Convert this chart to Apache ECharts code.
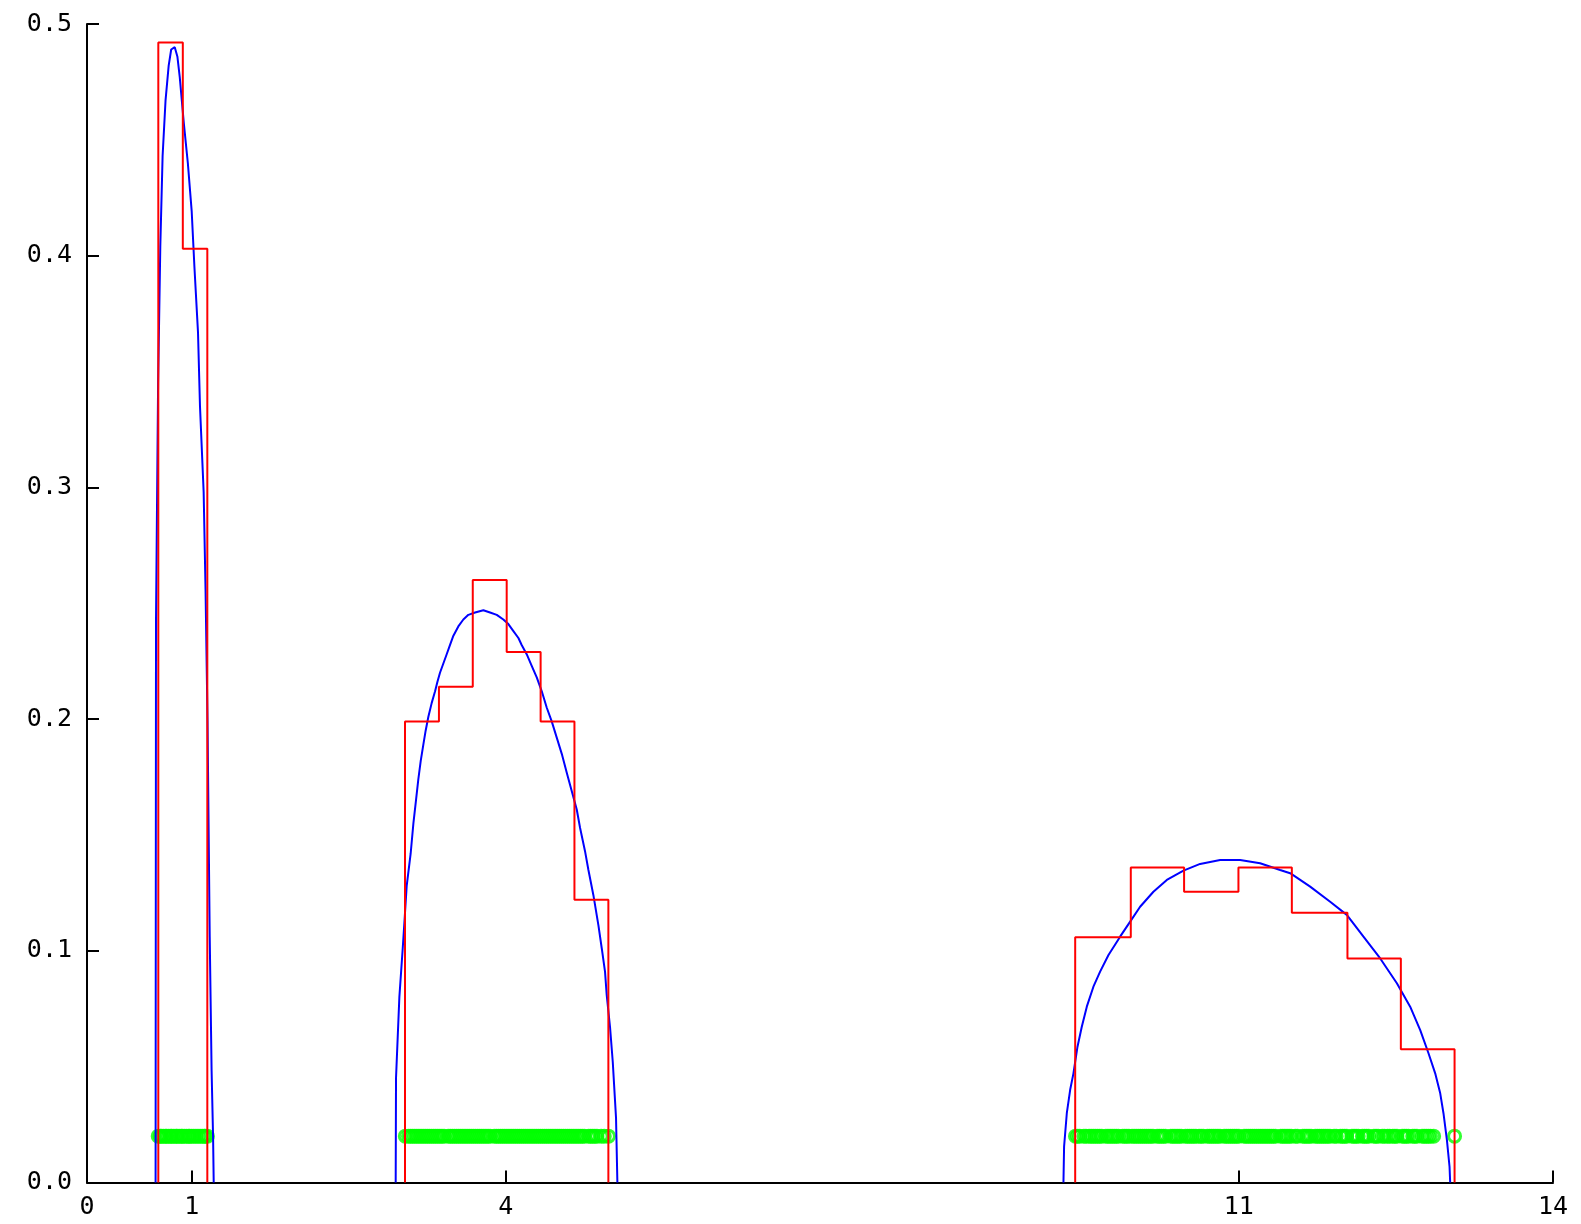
<!DOCTYPE html>
<html>
<head>
<meta charset="utf-8">
<script src="https://cdn.jsdelivr.net/npm/echarts@6/dist/echarts.min.js"></script>
<style>
html,body{margin:0;padding:0;background:#fff;}
#chart{width:1581px;height:1224px;}
</style>
</head>
<body>
<div id="chart"></div>
<script>
// ---- Axis ticks ----
const xTickValues = [0, 1, 4, 11, 14];
const yTickValues = [0, 0.1, 0.2, 0.3, 0.4, 0.5];

// ---- Histogram (red), bin edges and heights for each cluster ----
const binEdges1 = [0.681, 0.915, 1.149];
const binHeights1 = [0.492, 0.403];
const binEdges2 = [3.037, 3.361, 3.684, 4.008, 4.332, 4.655, 4.979];
const binHeights2 = [0.199, 0.214, 0.260, 0.229, 0.199, 0.122];
const binEdges3 = [9.437, 9.968, 10.477, 10.996, 11.506, 12.037, 12.547, 13.06];
const binHeights3 = [0.1058, 0.1359, 0.1255, 0.1359, 0.1164, 0.0967, 0.0575];

// ---- Density curves (blue) ----
const densX1 = [0.655, 0.659, 0.679, 0.700, 0.722, 0.750, 0.780, 0.804, 0.838, 0.863, 0.886, 0.925, 0.963, 1.000, 1.026, 1.060, 1.079, 1.114, 1.132, 1.151, 1.172, 1.190, 1.204, 1.210];
const densY1 = [0, 0.243, 0.345, 0.404, 0.443, 0.467, 0.482, 0.489, 0.490, 0.486, 0.477, 0.457, 0.440, 0.419, 0.395, 0.367, 0.335, 0.298, 0.256, 0.199, 0.106, 0.048, 0.020, 0];

const densX2 = [2.948, 2.951, 2.983, 3.015, 3.035, 3.053, 3.091, 3.117, 3.142, 3.164, 3.187, 3.212, 3.234, 3.260, 3.292, 3.324, 3.346, 3.371, 3.403, 3.435, 3.467, 3.499, 3.546, 3.594, 3.642, 3.706, 3.785, 3.849, 3.913, 3.976, 4.024, 4.072, 4.120, 4.151, 4.199, 4.247, 4.295, 4.343, 4.390, 4.438, 4.486, 4.534, 4.581, 4.629, 4.677, 4.709, 4.756, 4.788, 4.836, 4.884, 4.916, 4.947, 4.963, 4.995, 5.021, 5.052, 5.065];
const densY2 = [0, 0.045, 0.080, 0.101, 0.115, 0.128, 0.142, 0.155, 0.165, 0.174, 0.182, 0.189, 0.195, 0.201, 0.207, 0.212, 0.216, 0.220, 0.224, 0.228, 0.232, 0.236, 0.240, 0.243, 0.245, 0.246, 0.247, 0.246, 0.245, 0.243, 0.241, 0.238, 0.235, 0.232, 0.228, 0.223, 0.218, 0.212, 0.205, 0.199, 0.192, 0.185, 0.177, 0.169, 0.161, 0.153, 0.143, 0.135, 0.124, 0.111, 0.101, 0.091, 0.081, 0.067, 0.052, 0.028, 0];

const densX3 = [9.325, 9.331, 9.357, 9.389, 9.420, 9.459, 9.500, 9.548, 9.611, 9.675, 9.755, 9.866, 9.962, 10.057, 10.184, 10.312, 10.471, 10.630, 10.821, 11.012, 11.203, 11.394, 11.490, 11.681, 11.872, 12.031, 12.190, 12.350, 12.509, 12.636, 12.732, 12.811, 12.875, 12.923, 12.954, 12.987, 13.012, 13.018];
const densY3 = [0, 0.0155, 0.0299, 0.0400, 0.0470, 0.0586, 0.0672, 0.0759, 0.0845, 0.0910, 0.0982, 0.1061, 0.1126, 0.1190, 0.1255, 0.1306, 0.1346, 0.1375, 0.1392, 0.1392, 0.1378, 0.1349, 0.1335, 0.1277, 0.1212, 0.1155, 0.1061, 0.0967, 0.0860, 0.0759, 0.0658, 0.0558, 0.0471, 0.0385, 0.0299, 0.0183, 0.0068, 0];

// ---- Rug of observations (green), all drawn at this height ----
const rugLevel = 0.02;
const rug1 = [0.68, 0.70, 0.71, 0.73, 0.75, 0.76, 0.78, 0.80, 0.81, 0.83, 0.85, 0.86, 0.88, 0.90, 0.91, 0.93, 0.95, 0.97, 0.98, 1.00, 1.02, 1.04, 1.06, 1.08, 1.10, 1.12, 1.13, 1.15];
const rug2 = [3.04, 3.07, 3.09, 3.11, 3.13, 3.15, 3.17, 3.19, 3.21, 3.23, 3.25, 3.27, 3.29, 3.31, 3.33, 3.35, 3.37, 3.39, 3.41, 3.45, 3.47, 3.49, 3.51, 3.53, 3.55, 3.57, 3.59, 3.61, 3.63, 3.65, 3.67, 3.69, 3.71, 3.73, 3.75, 3.77, 3.79, 3.81, 3.83, 3.85, 3.89, 3.91, 3.93, 3.95, 3.97, 3.99, 4.01, 4.03, 4.05, 4.07, 4.09, 4.11, 4.13, 4.15, 4.17, 4.19, 4.21, 4.23, 4.25, 4.27, 4.29, 4.31, 4.33, 4.35, 4.37, 4.39, 4.41, 4.43, 4.45, 4.47, 4.49, 4.51, 4.53, 4.55, 4.57, 4.59, 4.61, 4.63, 4.65, 4.67, 4.69, 4.71, 4.73, 4.75, 4.79, 4.81, 4.83, 4.85, 4.87, 4.91, 4.94, 4.98];
const rug3 = [9.44, 9.46, 9.48, 9.52, 9.54, 9.57, 9.59, 9.61, 9.63, 9.65, 9.67, 9.69, 9.73, 9.75, 9.77, 9.79, 9.81, 9.83, 9.85, 9.89, 9.91, 9.93, 9.95, 9.98, 10.00, 10.02, 10.04, 10.06, 10.08, 10.10, 10.12, 10.14, 10.16, 10.18, 10.22, 10.24, 10.26, 10.28, 10.30, 10.35, 10.37, 10.39, 10.41, 10.43, 10.45, 10.49, 10.51, 10.53, 10.55, 10.57, 10.59, 10.62, 10.64, 10.66, 10.70, 10.72, 10.74, 10.76, 10.78, 10.80, 10.82, 10.86, 10.88, 10.90, 10.92, 10.94, 10.96, 10.98, 11.00, 11.05, 11.07, 11.09, 11.11, 11.13, 11.15, 11.17, 11.19, 11.21, 11.23, 11.25, 11.27, 11.29, 11.31, 11.33, 11.35, 11.40, 11.42, 11.44, 11.46, 11.48, 11.50, 11.54, 11.56, 11.61, 11.63, 11.65, 11.67, 11.69, 11.73, 11.75, 11.77, 11.79, 11.81, 11.83, 11.85, 11.87, 11.91, 11.93, 11.97, 11.99, 12.01, 12.03, 12.08, 12.10, 12.12, 12.14, 12.18, 12.20, 12.22, 12.24, 12.29, 12.31, 12.33, 12.37, 12.39, 12.42, 12.44, 12.47, 12.49, 12.51, 12.56, 12.58, 12.60, 12.62, 12.66, 12.68, 12.70, 12.75, 12.77, 12.79, 12.81, 12.83, 12.86, 13.06];

// ---- Build series data from the arrays ----
function outline(edges, heights) {
  const pts = [[edges[0], 0]];
  for (let i = 0; i < heights.length; i++) {
    pts.push([edges[i], heights[i]]);
    pts.push([edges[i + 1], heights[i]]);
  }
  pts.push([edges[edges.length - 1], 0]);
  return pts;
}
function zip(xs, ys) { return xs.map((x, i) => [x, ys[i]]); }

const blueStyle = { color: '#0000ff', width: 2 };
const redStyle = { color: '#ff0000', width: 2 };
function lineSeries(data, style) {
  return { type: 'line', data: data, showSymbol: false, symbol: 'none', lineStyle: style, itemStyle: { color: style.color }, silent: true, animation: false };
}

const rugData = rug1.concat(rug2, rug3).map(v => [v, rugLevel]);

const labelFont = { fontFamily: 'DejaVu Sans Mono', fontSize: 25, color: '#000' };

const chart = echarts.init(document.getElementById('chart'), null, { renderer: 'canvas' });
chart.setOption({
  backgroundColor: '#fff',
  animation: false,
  grid: { left: 87, right: 28, top: 24, bottom: 41.5, containLabel: false },
  xAxis: {
    type: 'value', min: 0, max: 14,
    splitLine: { show: false },
    axisLine: { show: true, onZero: false, lineStyle: { color: '#000', width: 2 } },
    axisTick: { show: true, inside: true, length: 12, customValues: xTickValues, lineStyle: { color: '#000', width: 2 } },
    axisLabel: Object.assign({ show: true, margin: 12, customValues: xTickValues, showMinLabel: true, showMaxLabel: true }, labelFont)
  },
  yAxis: {
    type: 'value', min: 0, max: 0.5, interval: 0.1,
    splitLine: { show: false },
    axisLine: { show: true, onZero: false, lineStyle: { color: '#000', width: 2 } },
    axisTick: { show: true, inside: true, length: 12, customValues: yTickValues, lineStyle: { color: '#000', width: 2 } },
    axisLabel: Object.assign({ show: true, margin: 15, customValues: yTickValues, formatter: v => Number(v).toFixed(1) }, labelFont)
  },
  series: [
    lineSeries(zip(densX1, densY1), blueStyle),
    lineSeries(zip(densX2, densY2), blueStyle),
    lineSeries(zip(densX3, densY3), blueStyle),
    lineSeries(outline(binEdges1, binHeights1), redStyle),
    lineSeries(outline(binEdges2, binHeights2), redStyle),
    lineSeries(outline(binEdges3, binHeights3), redStyle),
    {
      type: 'scatter', data: rugData, symbol: 'circle', symbolSize: 12,
      itemStyle: { color: 'rgba(0,0,0,0)', borderColor: '#00ff00', borderWidth: 3 },
      silent: true, animation: false
    }
  ]
});
</script>
</body>
</html>
